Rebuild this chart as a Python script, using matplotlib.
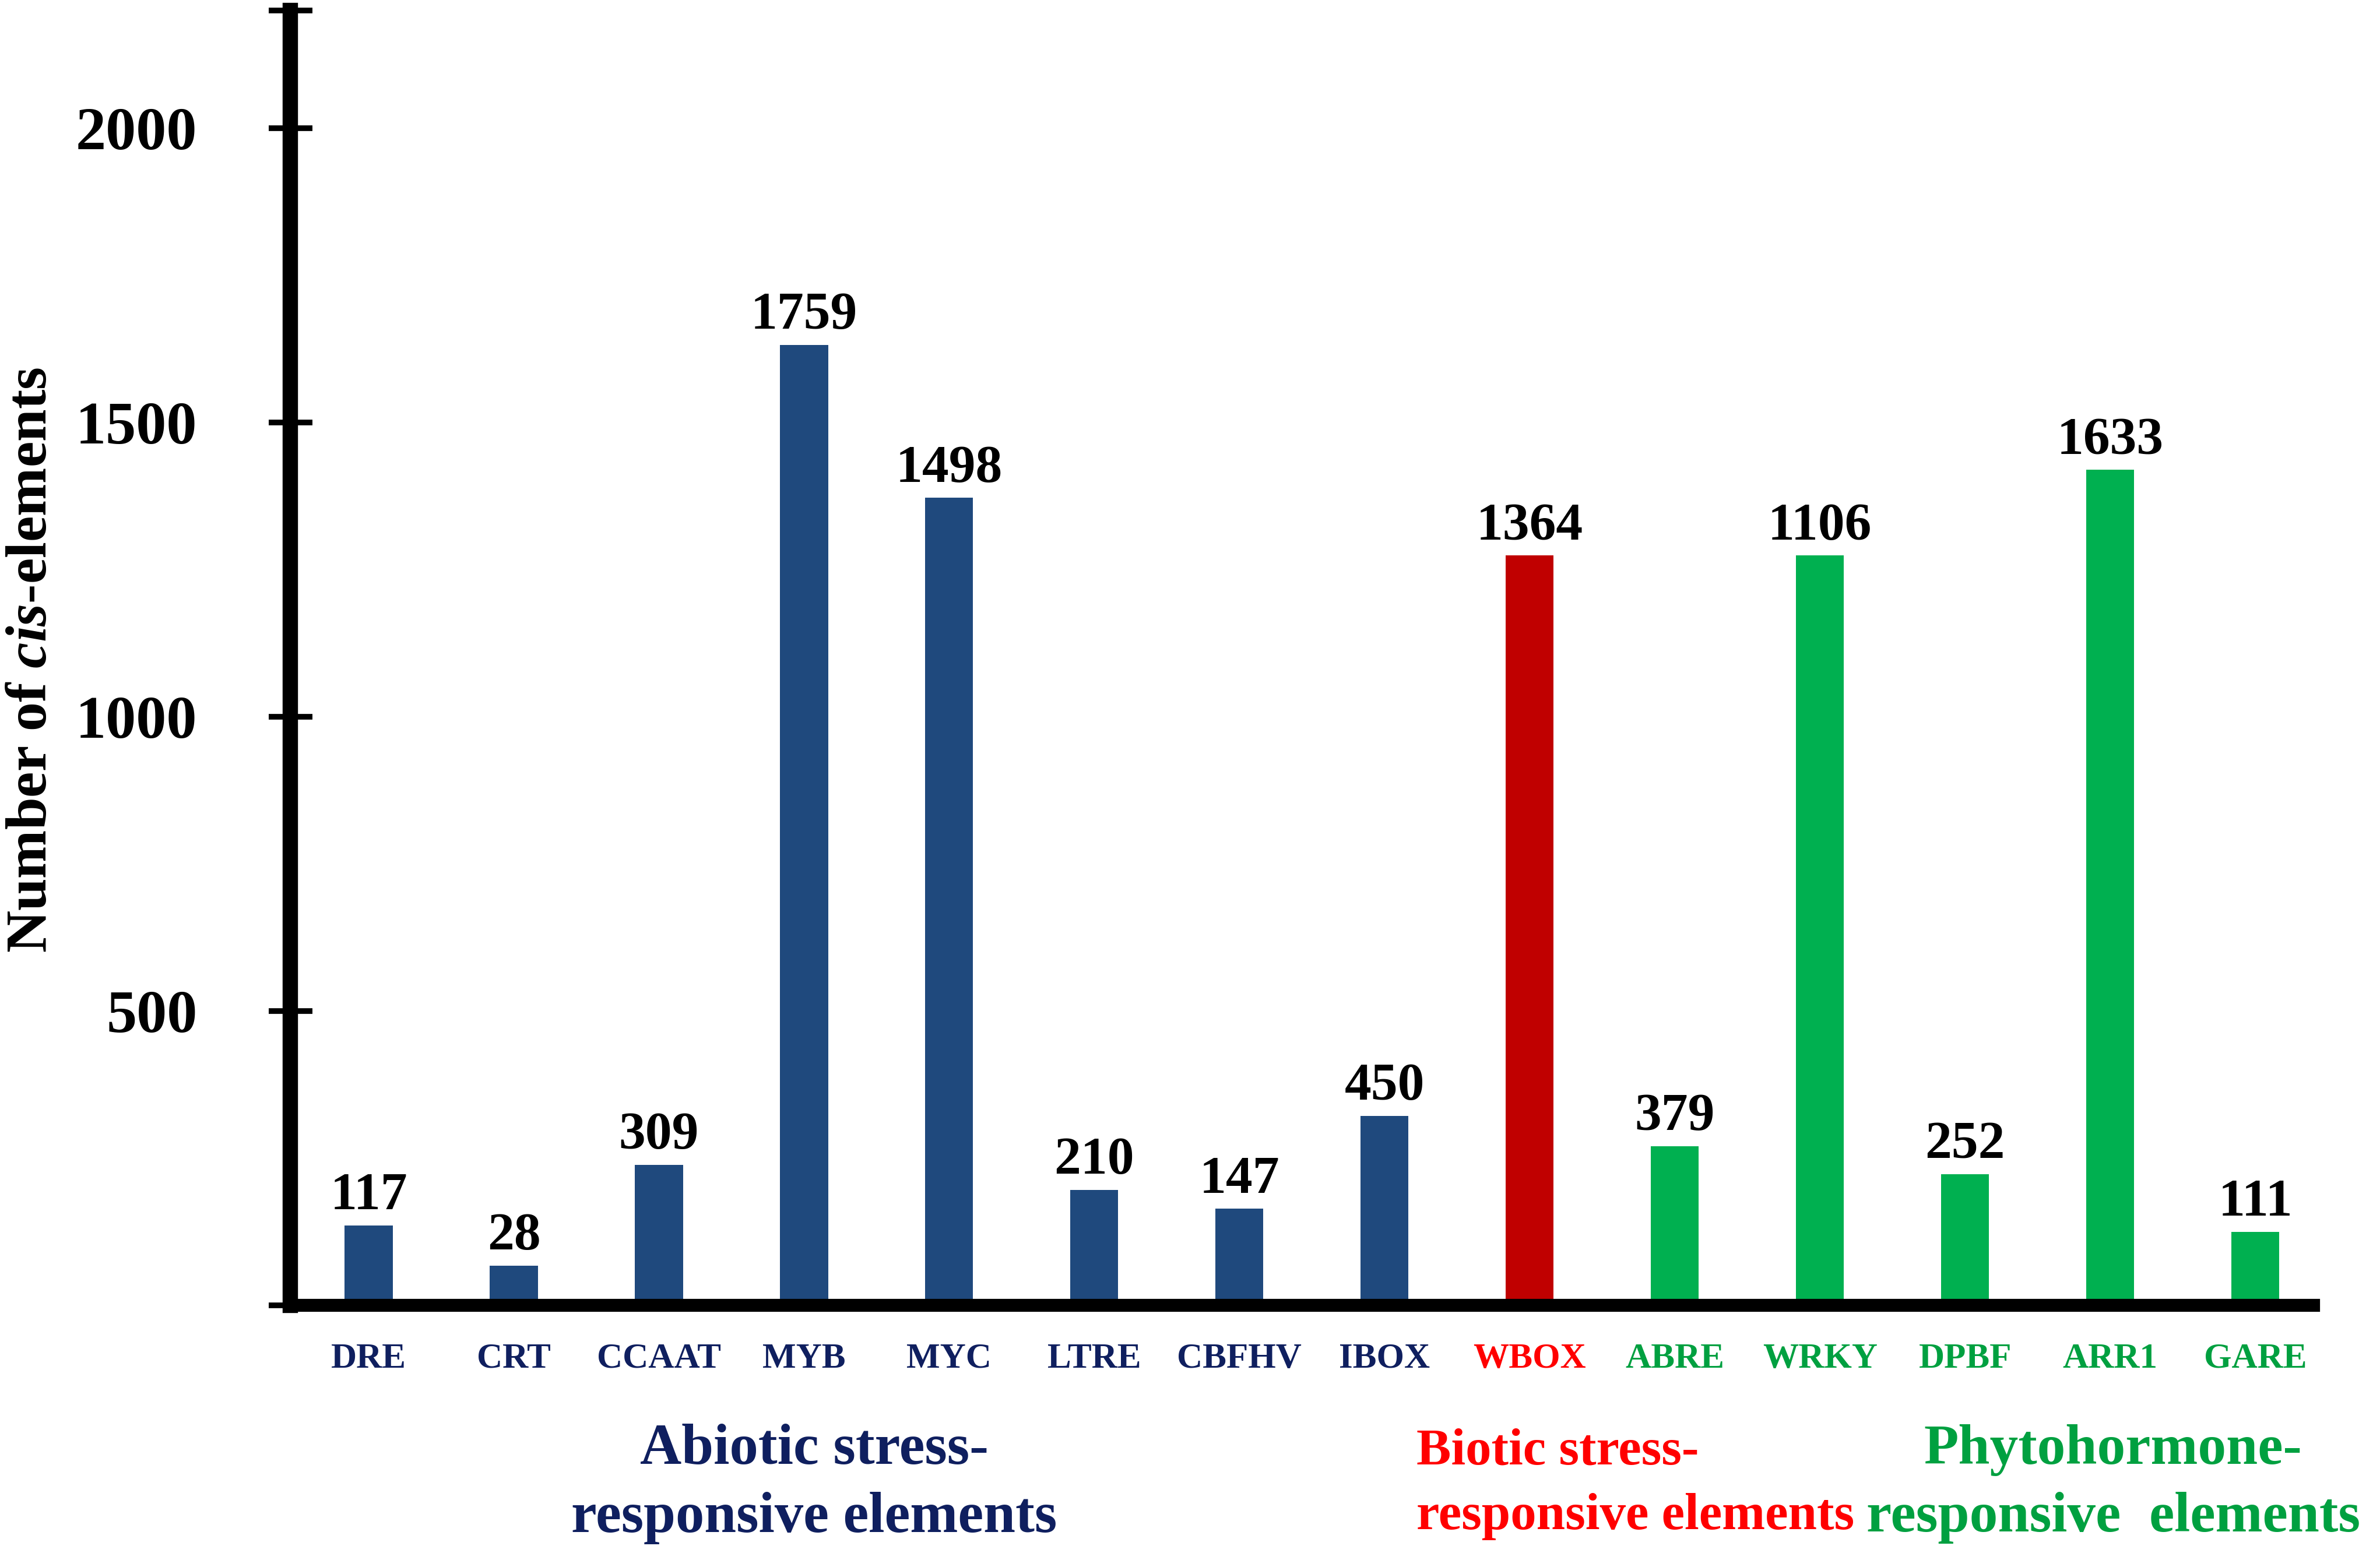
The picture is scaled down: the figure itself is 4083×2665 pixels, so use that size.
import matplotlib
matplotlib.use('Agg')
import matplotlib.pyplot as plt
import numpy as np

# element names and the group each one belongs to
elements = ['DRE', 'CRT', 'CCAAT', 'MYB', 'MYC', 'LTRE', 'CBFHV', 'IBOX',
            'WBOX', 'ABRE', 'WRKY', 'DPBF', 'ARR1', 'GARE']
groups = ['abiotic'] * 8 + ['biotic'] + ['hormone'] * 5

# bar heights as drawn in the figure
heights = [136, 67, 239, 1632, 1372, 196, 164, 322,
           1274, 270, 1274, 223, 1420, 125]
# numbers printed above the bars
counts = [117, 28, 309, 1759, 1498, 210, 147, 450,
          1364, 379, 1106, 252, 1633, 111]

yticks = [0, 500, 1000, 1500, 2000, 2200]
ytick_labels = ['', '500', '1000', '1500', '2000', '']

group_titles = {
    'abiotic': 'Abiotic stress-\nresponsive elements',
    'biotic': 'Biotic stress-\nresponsive elements',
    'hormone': 'Phytohormone-\nresponsive  elements',
}

bar_colors = {'abiotic': '#1F497D', 'biotic': '#C00000', 'hormone': '#00B050'}
text_colors = {'abiotic': '#0F1F5F', 'biotic': '#FF0000', 'hormone': '#00A040'}

plt.rcParams['font.family'] = ['Liberation Serif', 'DejaVu Serif']
plt.rcParams['font.weight'] = 'bold'
plt.rcParams['mathtext.fontset'] = 'custom'
plt.rcParams['mathtext.rm'] = 'Liberation Serif:bold'
plt.rcParams['mathtext.it'] = 'Liberation Serif:italic:bold'

fig = plt.figure(figsize=(40.83, 26.65), dpi=100)
ax = fig.add_axes([0.122, 0.1595, 0.850, 0.8337])

x = np.arange(len(elements))
ax.bar(x, heights, width=0.33, color=[bar_colors[g] for g in groups], zorder=1)

for xi, h, c in zip(x, heights, counts):
    ax.annotate(str(c), (xi, h), xytext=(0, 20), textcoords='offset points',
                ha='center', va='baseline', fontsize=66, fontweight='bold')

ax.set_xlim(-0.54, 13.40)
ax.set_ylim(0, 2200)

ax.spines['top'].set_visible(False)
ax.spines['right'].set_visible(False)
ax.spines['left'].set_linewidth(19)
ax.spines['bottom'].set_linewidth(16)
ax.spines['left'].set_zorder(3)
ax.spines['bottom'].set_zorder(3)

ax.set_yticks(yticks)
ax.set_yticklabels(ytick_labels)
ax.tick_params(axis='y', direction='inout', length=54, width=7, pad=88,
               labelsize=75)

ax.set_xticks(x)
ax.set_xticklabels(elements)
ax.tick_params(axis='x', length=0, pad=46, labelsize=44)
for lab, g in zip(ax.get_xticklabels(), groups):
    lab.set_color(text_colors[g])
    lab.set_fontweight('bold')

# group captions under the element names
trans = ax.get_xaxis_transform()
cap_y = -0.138
ax.text(3.07, cap_y, group_titles['abiotic'], transform=trans, ha='center',
        va='center', multialignment='center', fontsize=71, linespacing=1.4,
        color=text_colors['abiotic'])
ax.text(7.22, cap_y, group_titles['biotic'], transform=trans, ha='left',
        va='center', multialignment='left', fontsize=64, linespacing=1.5,
        color=text_colors['biotic'])
ax.text(12.02, cap_y, group_titles['hormone'], transform=trans, ha='center',
        va='center', multialignment='center', fontsize=70, linespacing=1.4,
        color=text_colors['hormone'])

fig.text(0.0135, 0.575, r'Number of $\mathit{cis}$-elements', rotation=90,
         ha='center', va='center', fontsize=72)

fig.savefig('out.png', dpi=100)
